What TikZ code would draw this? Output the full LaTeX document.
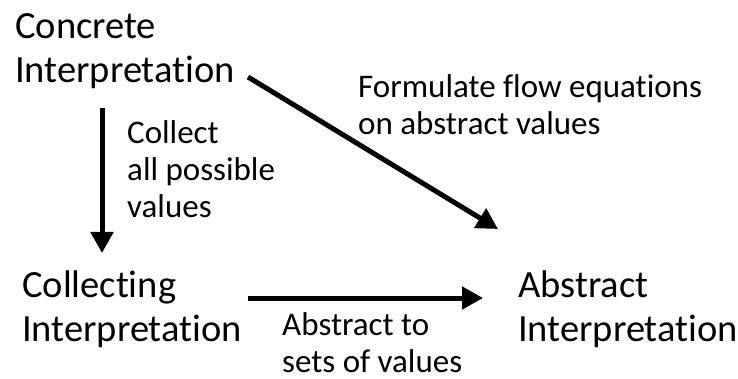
\documentclass[tikz,border=0pt]{standalone}
\usepackage{fontspec}
\setmainfont{Carlito}[Ligatures={NoCommon}]
\usetikzlibrary{arrows.meta}
\begin{document}
\begin{tikzpicture}[x=1pt,y=-1pt,
  big/.style={font=\fontsize{38.5}{44}\selectfont, align=left, inner sep=0pt, anchor=base west},
  small/.style={font=\fontsize{33}{37}\selectfont, align=left, inner sep=0pt, anchor=base west},
  arr/.style={line width=5pt, -{Triangle[length=21pt,width=22pt]}}]
\useasboundingbox (0,0) rectangle (738,379);
% anchor base = baseline of the last line
\node[big] (concrete) at (15,83) {Concrete\\Interpretation};
\node[big] (collecting) at (22,341) {Collecting\\Interpretation};
\node[big] (abstract) at (518,341) {Abstract\\Interpretation};
\node[small] (lcollect) at (127,218) {Collect\\all possible\\values};
\node[small] (lformulate) at (358,135) {Formulate flow equations\\on abstract values};
\node[small] (labstract) at (282,372) {Abstract to\\sets of values};
\coordinate (v1) at (102,108);
\coordinate (v2) at (102,253);
\coordinate (h1) at (248,298);
\coordinate (h2) at (483,298);
\coordinate (d1) at (248,77);
\coordinate (d2) at (498,229);
\draw[arr] (v1) -- (v2);
\draw[arr] (h1) -- (h2);
\draw[arr] (d1) -- (d2);
\end{tikzpicture}
\end{document}
